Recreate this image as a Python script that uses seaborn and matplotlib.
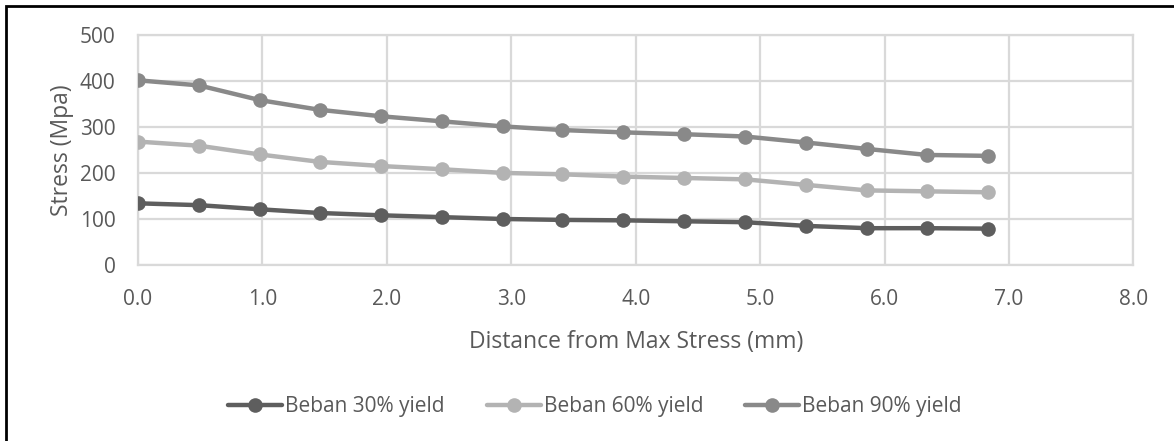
import matplotlib
matplotlib.use("Agg")
import matplotlib.pyplot as plt
from matplotlib.patches import Rectangle
import seaborn as sns
import pandas as pd

# Distance from the point of maximum stress (mm)
distance = [0.00, 0.49, 0.98, 1.46, 1.95, 2.44, 2.93, 3.41,
            3.90, 4.39, 4.88, 5.37, 5.86, 6.34, 6.83]

# Stress (MPa) for each load level
stress_30 = [134, 130, 121, 113, 108, 104, 100, 98,
             97, 95, 93, 85, 80, 80, 79]
stress_60 = [268, 259, 240, 224, 215, 208, 200, 197,
             192, 189, 186, 174, 162, 160, 158]
stress_90 = [401, 390, 358, 337, 323, 312, 301, 293,
             288, 284, 279, 266, 252, 239, 237]

series_names = ["Beban 30% yield", "Beban 60% yield", "Beban 90% yield"]
series_colors = ["#5e5e5e", "#b3b3b3", "#898989"]

x_ticks = [0, 1, 2, 3, 4, 5, 6, 7, 8]
y_ticks = [0, 100, 200, 300, 400, 500]

frames = []
for name, vals in zip(series_names, [stress_30, stress_60, stress_90]):
    frames.append(pd.DataFrame({"Distance": distance, "Stress": vals, "Series": name}))
df = pd.concat(frames, ignore_index=True)

sns.set_theme(style="white")
plt.rcParams["font.family"] = ["Open Sans", "DejaVu Sans"]
text_color = "#595959"

fig = plt.figure(figsize=(11.74, 4.41), dpi=100)
ax = fig.add_axes([0.1175, 0.399, 0.848, 0.5223])

sns.lineplot(data=df, x="Distance", y="Stress", hue="Series",
             palette=dict(zip(series_names, series_colors)),
             marker="o", markersize=10.5, markeredgewidth=0,
             linewidth=3.2, ax=ax, legend=True, zorder=3)

ax.set_xlim(0, 8)
ax.set_ylim(0, 500)
ax.set_xticks(x_ticks)
ax.set_xticklabels([f"{t:.1f}" for t in x_ticks])
ax.set_yticks(y_ticks)
ax.grid(True, color="#d9d9d9", linewidth=1.6, zorder=0)
for side in ["top", "right", "left", "bottom"]:
    ax.spines[side].set_visible(True)
    ax.spines[side].set_color("#d9d9d9")
    ax.spines[side].set_linewidth(1.6)
ax.tick_params(axis="both", colors=text_color, labelsize=15, length=0)
ax.tick_params(axis="x", pad=17)
ax.tick_params(axis="y", pad=16)
ax.set_xlabel("Distance from Max Stress (mm)", color=text_color, fontsize=16.5, labelpad=15)
ax.set_ylabel("Stress (Mpa)", color=text_color, fontsize=16.5, labelpad=4)

handles, labels = ax.get_legend_handles_labels()
leg = ax.legend(handles, labels, loc="center", bbox_to_anchor=(0.459, -0.615),
                ncol=3, frameon=False, fontsize=15,
                handlelength=2.6, handletextpad=0.15, columnspacing=2.0,
                labelcolor=text_color)

# Outer frame lines at the top and left of the figure
fig.add_artist(Rectangle((5.5 / 1174, -0.1), 1.2, 1 - 5.5 / 441 + 0.1,
                         transform=fig.transFigure, fill=False,
                         edgecolor="black", linewidth=2))

fig.savefig("out.png", dpi=100)
